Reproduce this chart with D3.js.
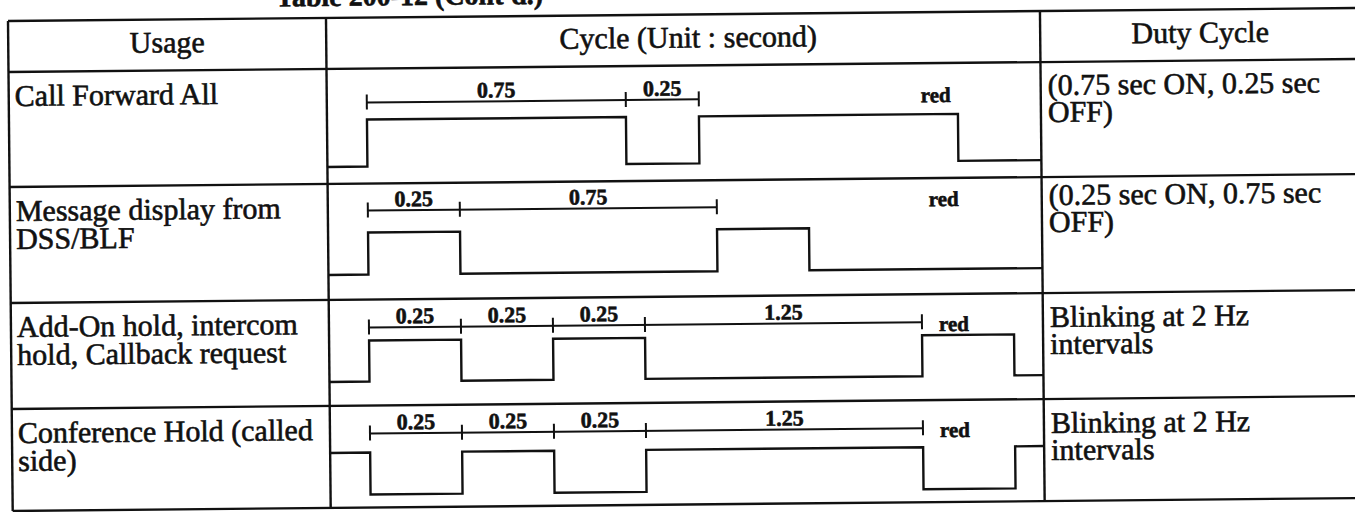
<!DOCTYPE html>
<html>
<head>
<meta charset="utf-8">
<script src="https://cdn.jsdelivr.net/npm/d3@7"></script>
<style>
  body { margin: 0; background: #fff; }
  svg { display: block; }
  text { font-family: "Liberation Serif", "Times New Roman", serif; fill: #111; stroke: #111; stroke-width: 0.6px; }
</style>
</head>
<body>
<svg id="chart" width="1355" height="512"></svg>
<script>
// ---- data ----
const title = "Table 200-12 (Cont'd.)";
const headers = ["Usage", "Cycle (Unit : second)", "Duty Cycle"];
const usage = [
  ["Call Forward All"],
  ["Message display from", "DSS/BLF"],
  ["Add-On hold, intercom", "hold, Callback request"],
  ["Conference Hold (called", "side)"]
];
const duty = [
  ["(0.75 sec ON, 0.25 sec", "OFF)"],
  ["(0.25 sec ON, 0.75 sec", "OFF)"],
  ["Blinking at 2 Hz", "intervals"],
  ["Blinking at 2 Hz", "intervals"]
];
// dimensioned spans above each waveform (seconds)
const spans = [
  [0.75, 0.25],
  [0.25, 0.75],
  [0.25, 0.25, 0.25, 1.25],
  [0.25, 0.25, 0.25, 1.25]
];
// lamp waveform: seconds of each step, and level before / during each step / after (1 = lit)
const waveSecs = [
  [0.75, 0.25, 0.75],
  [0.25, 0.75, 0.25],
  [0.25, 0.25, 0.25, 1.25, 0.25],
  [0.25, 0.25, 0.25, 1.25, 0.25]
];
const waveLevels = [
  [0, 1, 0, 1, 0],
  [0, 1, 0, 1, 0],
  [0, 1, 0, 1, 0, 1, 0],
  [1, 0, 1, 0, 1, 0, 1]
];
const colour = ["red", "red", "red", "red"];

// ---- layout ----
const colX = [8, 326, 1040, 1420];
const rowY = [21, 72, 187, 303, 409, 511];
const rowGeom = [[34, 51, 98], [27, 49, 91], [28, 41, 82], [28, 47, 89]]; // dim line, high, low
const dutyTop = [33, 28, 34, 34];
const startPad = 40;

// the drawing is schematic, not to time scale
const durCommon = d3.scaleLinear().domain([0, 0.25, 0.75, 1.25]).range([0, 92, 257, 277]);
const durRow1 = d3.scaleLinear().domain([0, 0.25, 0.75]).range([0, 73, 259]);
const durW = [durRow1, durCommon, durCommon, durCommon];

const svg = d3.select("#chart");
svg.append("rect").attr("width", 1355).attr("height", 512).attr("fill", "#fff");
const g = svg.append("g").attr("transform", "rotate(-0.55 8 21)");

g.append("text")
  .attr("x", 276).attr("y", 9)
  .attr("font-size", 28).attr("font-weight", "bold")
  .text(title);

// table rules
g.selectAll(".hrule").data(rowY).enter().append("line")
  .attr("x1", colX[0]).attr("x2", colX[3])
  .attr("y1", d => d).attr("y2", d => d)
  .attr("stroke", "#111").attr("stroke-width", 2.4);
g.selectAll(".vrule").data(colX.slice(0, 3)).enter().append("line")
  .attr("x1", d => d).attr("x2", d => d)
  .attr("y1", rowY[0]).attr("y2", rowY[5])
  .attr("stroke", "#111").attr("stroke-width", 2.4);

// header
const headX = [(colX[0] + colX[1]) / 2, (colX[1] + colX[2]) / 2 + 5, colX[2] + 160];
g.selectAll(".head").data(headers).enter().append("text")
  .attr("x", (d, i) => headX[i]).attr("y", rowY[0] + 33)
  .attr("text-anchor", "middle").attr("font-size", 30)
  .text(d => d);

usage.forEach((lines, r) => {
  const top = rowY[r + 1];
  const [dimOff, hiOff, loOff] = rowGeom[r];
  const dw = durW[r];
  const row = g.append("g");

  row.selectAll(".u").data(lines).enter().append("text")
    .attr("x", colX[0] + 6).attr("y", (d, i) => top + 34 + i * 28)
    .attr("font-size", 30).text(d => d);

  row.selectAll(".d").data(duty[r]).enter().append("text")
    .attr("x", colX[2] + 7).attr("y", (d, i) => top + dutyTop[r] + i * 27)
    .attr("font-size", 30).text(d => d);

  const x0 = colX[1] + startPad;
  const y = d3.scaleLinear().domain([0, 1]).range([top + loOff, top + hiOff]);

  // waveform
  const pts = [{x: colX[1], l: waveLevels[r][0]}];
  let cx = x0;
  waveSecs[r].forEach((s, i) => {
    pts.push({x: cx, l: waveLevels[r][i + 1]});
    cx += dw(s);
  });
  pts.push({x: cx, l: waveLevels[r][waveLevels[r].length - 1]});
  pts.push({x: colX[2], l: waveLevels[r][waveLevels[r].length - 1]});
  const line = d3.line().x(d => d.x).y(d => y(d.l)).curve(d3.curveStepAfter);
  row.append("path").attr("d", line(pts))
    .attr("fill", "none").attr("stroke", "#111").attr("stroke-width", 2.4);

  // dimension line
  const dimY = top + dimOff;
  const bounds = [x0];
  spans[r].forEach(s => bounds.push(bounds[bounds.length - 1] + dw(s)));
  row.append("line")
    .attr("x1", bounds[0]).attr("x2", bounds[bounds.length - 1])
    .attr("y1", dimY).attr("y2", dimY)
    .attr("stroke", "#111").attr("stroke-width", 2);
  row.selectAll(".tick").data(bounds).enter().append("line")
    .attr("x1", d => d).attr("x2", d => d)
    .attr("y1", dimY - 8).attr("y2", dimY + 7)
    .attr("stroke", "#111").attr("stroke-width", 2);
  row.selectAll(".lab").data(spans[r]).enter().append("text")
    .attr("x", (d, i) => (bounds[i] + bounds[i + 1]) / 2)
    .attr("y", dimY - 4)
    .attr("text-anchor", "middle").attr("font-size", 22).attr("font-weight", "bold")
    .text(d => d.toFixed(2));

  // colour note
  let rx, ry;
  if (r === 0) { rx = colX[2] - 120; ry = top + hiOff - 12; }
  else if (r === 1) { rx = colX[2] - 113; ry = dimY + 1; }
  else { rx = bounds[bounds.length - 1] + 17; ry = dimY + 9; }
  row.append("text").attr("x", rx).attr("y", ry)
    .attr("font-size", 21).attr("font-weight", "bold")
    .text(colour[r]);
});
</script>
</body>
</html>
